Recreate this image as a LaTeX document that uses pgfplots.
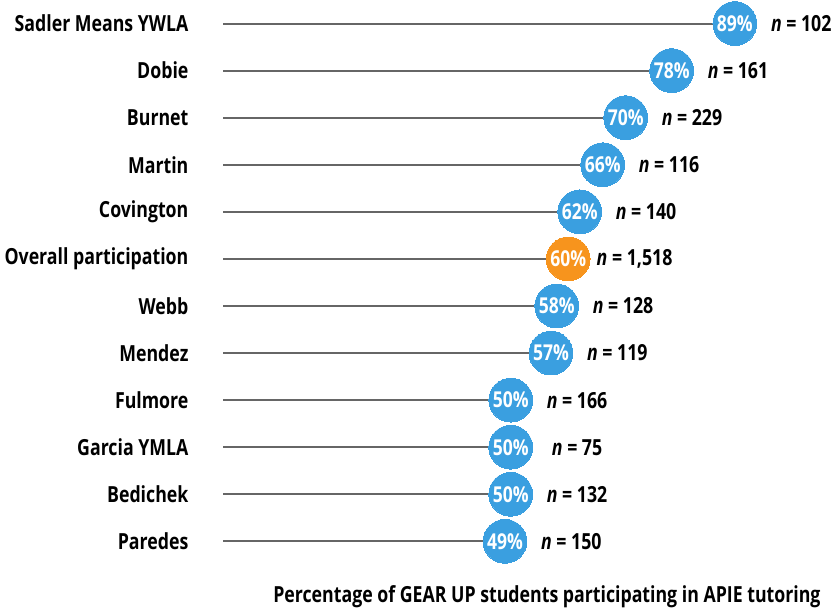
\documentclass[border=0pt]{standalone}
\usepackage{fontspec}
\setmainfont{Open Sans}[FakeStretch=0.8]
\usepackage{pgfplots}
\pgfplotsset{compat=1.18}
\definecolor{dotblue}{HTML}{3A9FE0}
\definecolor{dotorange}{HTML}{F7941D}
\definecolor{stem}{HTML}{666666}
\begin{document}
\begin{tikzpicture}
\begin{axis}[
  x=4.2pt, y=34.4pt,
  xmin=0, xmax=100, ymin=-0.5, ymax=11.5,
  y dir=reverse,
  clip=false,
  axis line style={draw=none},
  tick style={draw=none},
  xtick=\empty,
  ytick={0,...,11},
  yticklabels={Sadler Means YWLA, Dobie, Burnet, Martin, Covington, Overall participation, Webb, Mendez, Fulmore, Garcia YMLA, Bedichek, Paredes},
  yticklabel style={font=\bfseries\fontsize{16.2}{19}\selectfont, anchor=east, xshift=-22pt},
  /pgf/number format/assume math mode=true,
]
% stems
\addplot[xcomb, draw=stem, line width=1.5pt, mark=none] coordinates {
  (89,0) (78,1) (70,2) (66,3) (62,4) (60,5) (58,6) (57,7) (50,8) (50,9) (50,10) (49,11)};
% n labels
\addplot[only marks, mark=none, point meta=explicit,
  nodes near coords={\textit{n} = \pgfmathprintnumber[1000 sep={,}]{\pgfplotspointmeta}},
  nodes near coords style={font=\bfseries\fontsize{16.2}{19}\selectfont, anchor=center, xshift=48.5pt, text=black}]
  coordinates {
  (89,0) [102] (78,1) [161] (70,2) [229] (66,3) [116] (62,4) [140] (60,5) [1518]
  (58,6) [128] (57,7) [119] (50,8) [166] (50,9) [75] (50,10) [132] (49,11) [150]};
% school dots
\addplot[only marks, draw=dotblue, fill=dotblue, mark=*, mark size=16pt,
  mark options={draw=dotblue, fill=dotblue, line width=0pt}, point meta=x,
  nodes near coords={\pgfmathprintnumber{\pgfplotspointmeta}\%},
  nodes near coords style={font=\bfseries\fontsize{16}{19}\selectfont, anchor=center, text=white}]
  coordinates {
  (89,0) (78,1) (70,2) (66,3) (62,4) (58,6) (57,7) (50,8) (50,9) (50,10) (49,11)};
% overall dot
\addplot[only marks, draw=dotorange, fill=dotorange, mark=*, mark size=16pt,
  mark options={draw=dotorange, fill=dotorange, line width=0pt}, point meta=x,
  nodes near coords={\pgfmathprintnumber{\pgfplotspointmeta}\%},
  nodes near coords style={font=\bfseries\fontsize{16}{19}\selectfont, anchor=center, text=white}]
  coordinates {(60,5)};
\node[anchor=base, font=\bfseries\fontsize{16.2}{19}\selectfont] at (axis cs:56.3,12.3)
  {Percentage of GEAR UP students participating in APIE tutoring};
\end{axis}
\end{tikzpicture}
\end{document}
